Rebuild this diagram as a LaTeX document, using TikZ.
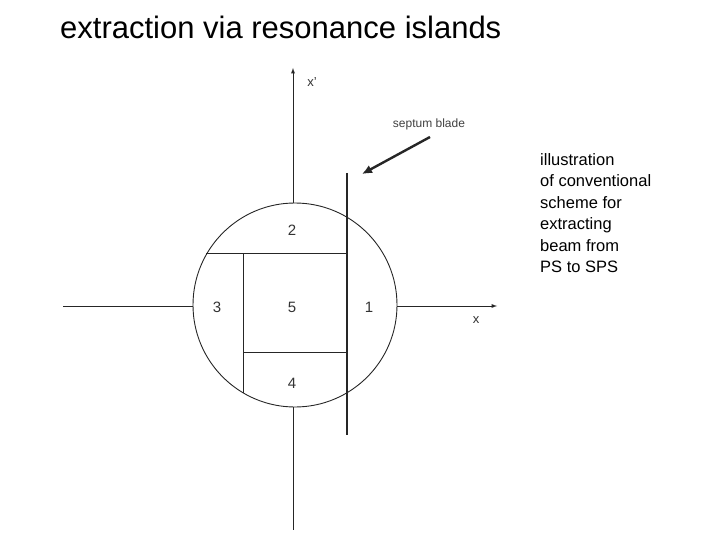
\documentclass[tikz,border=0pt]{standalone}
\usepackage{fontspec}
\setmainfont{Liberation Sans}
\usetikzlibrary{arrows.meta}
\begin{document}
\begin{tikzpicture}[x=1pt,y=-1pt,
  ln/.style={line width=0.9pt,black!85},
  lbl/.style={font=\fontsize{15}{15}\selectfont,text=black!80}]
\useasboundingbox (0,0) rectangle (720,540);
\node[anchor=west,font=\fontsize{31}{31}\selectfont,inner sep=0pt] (title) at (60,27) {extraction via resonance islands};
\coordinate (c) at (295,305);
\draw[ln] (c) circle[radius=102];
\coordinate (yt) at (293,68); \coordinate (yb) at (293,530);
\coordinate (xl) at (63,306); \coordinate (xr) at (497,306);
\draw[ln,-latex] (293,203) -- (yt);
\draw[ln] (293,407) -- (yb);
\draw[ln] (xl) -- (193,306);
\draw[ln,-latex] (397,306) -- (xr);
\draw[ln] (206,253) -- (347,253);
\draw[ln] (243,253) -- (243,393);
\draw[ln] (243,352) -- (347,352);
\draw[line width=2.6pt,black!85] (347,173) -- (347,435);
\node[lbl] (n2) at (292,230) {2};
\node[lbl] (n3) at (217,307) {3};
\node[lbl] (n5) at (292,307) {5};
\node[lbl] (n1) at (369,307) {1};
\node[lbl] (n4) at (292,383) {4};
\node[lbl,font=\fontsize{13}{13}\selectfont] (xx) at (476,320) {x};
\node[lbl,font=\fontsize{13}{13}\selectfont] (xp) at (312,82) {x'};
\node[font=\fontsize{12}{12}\selectfont,text=black!75] (sb) at (429,124) {septum blade};
\coordinate (tip) at (362,174);
\draw[line width=2.4pt,black!85,-{Latex[length=10pt,width=9pt]}] (430,137) -- (tip);
\node[anchor=north west,align=left,font=\fontsize{16.5}{21.5}\selectfont,inner sep=0pt] (side) at (540,153)
 {illustration\\of conventional\\scheme for\\extracting\\beam from\\PS to SPS};
\end{tikzpicture}
\end{document}
